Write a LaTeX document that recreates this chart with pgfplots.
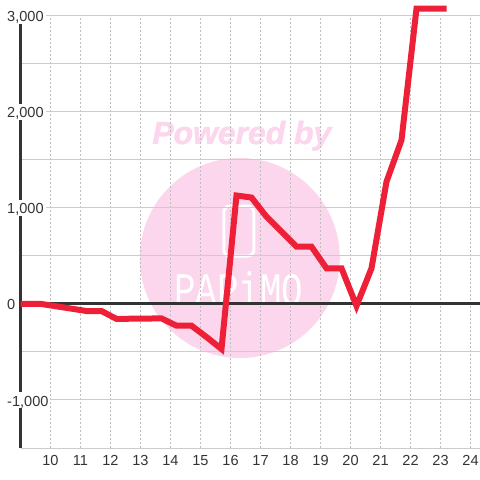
\documentclass[border=0pt]{standalone}
\usepackage{pgfplots}
\pgfplotsset{compat=1.18}
\usepackage{fontspec}
\setmainfont{Liberation Sans}
\setmonofont{Liberation Mono}
\newfontfamily\wmfont{Liberation Sans}[FakeBold=1.6]
\definecolor{wm}{RGB}{252,214,236}
\definecolor{redline}{RGB}{238,32,56}
\definecolor{axdark}{RGB}{51,51,51}
\definecolor{gridc}{RGB}{204,204,204}
\definecolor{dotc}{RGB}{190,190,190}
\begin{document}
\begin{tikzpicture}
\begin{axis}[
 set layers,
 at={(0,0)}, anchor=south west,
 scale only axis, width=459.5bp, height=432bp,
 xmin=9, xmax=24.3167, ymin=-1500, ymax=3000,
 clip=false,
 axis x line=bottom, axis y line=left,
 x axis line style={draw=none},
 y axis line style={draw=axdark, line width=3bp, -},
 xtick={10,...,24},
 ytick={-1000,0,1000,2000,3000},
 minor ytick={-1500,-500,500,1500,2500},
 major tick length=0pt, minor tick length=0pt,
 tick style={draw=none},
 xmajorgrids, ymajorgrids, yminorgrids,
 x grid style={dotc, line width=1bp, dash pattern=on 2bp off 2bp},
 y grid style={gridc, line width=1bp},
 minor y grid style={gridc, line width=1bp},
 /pgf/number format/assume math mode=true,
 /pgf/number format/1000 sep={,},
 ticklabel style={font=\fontsize{14.6}{16}\selectfont, text=axdark},
 xticklabel style={anchor=base, yshift=-17.7bp},
 yticklabel style={anchor=base west, xshift=-15.5bp, yshift=-6bp, fill=white, inner xsep=2bp, inner ysep=0pt, text height=14bp, text depth=2bp},
]
\begin{pgfonlayer}{axis background}
\fill[wm] (axis cs:16.31,479) circle[radius=100bp];
\node[text=wm, anchor=base, inner sep=0pt, font=\fontsize{32}{36}\wmfont\bfseries\itshape] at (axis cs:16.377,1667) {Powered by};
\draw[white, line width=3bp, rounded corners=6bp] ([xshift=-15bp,yshift=-25bp]axis cs:16.277,760) rectangle ([xshift=15bp,yshift=25bp]axis cs:16.277,760);
\node[text=white, inner sep=0pt, yscale=1.3, font=\fontsize{36}{40}\selectfont\ttfamily] at (axis cs:16.277,156) {PAPiMO};
\end{pgfonlayer}
\addplot[axdark, line width=3bp, forget plot] coordinates {(9,0) (24.3167,0)};
\addplot[redline, line width=6bp, line join=miter] coordinates {
(9,0) (9.7,0) (11.2,-73) (11.7,-73) (12.2,-155) (13.7,-150) (14.2,-226) (14.7,-226)
(15.2,-344) (15.7,-469) (16.2,1130) (16.7,1109) (17.2,909) (18.2,597) (18.7,597)
(19.2,372) (19.7,372) (20.2,-20) (20.7,372) (21.2,1274) (21.7,1708) (22.2,3078) (23.2,3078)};
\end{axis}
\pgfresetboundingbox
\path[use as bounding box] (-20.5bp,-32bp) rectangle (459.5bp,448bp);
\end{tikzpicture}
\end{document}
